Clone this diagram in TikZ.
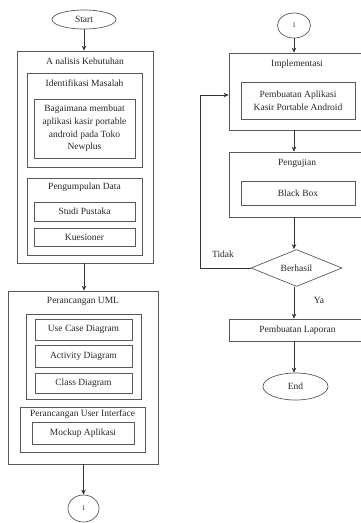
\documentclass[tikz,border=0pt]{standalone}
\usepackage{fontspec}
\setmainfont{Liberation Serif}
\usetikzlibrary{shapes.geometric,arrows.meta}
\begin{document}
\begin{tikzpicture}[x=1pt,y=-1pt,
  every node/.style={font=\fontsize{9.5pt}{12.8pt}\selectfont, text=black!85, inner sep=0pt},
  box/.style={draw=black!65, line width=0.7pt, rectangle},
  ttl/.style={},
  oval/.style={draw=black!65, line width=0.7pt, ellipse},
  arr/.style={draw=black!80, line width=0.8pt, -{Stealth[length=5pt,width=4.5pt]}}]
\useasboundingbox (0,0) rectangle (360,523);
% ---------- left column ----------
\node[oval, minimum width=64pt, minimum height=19pt] (start) at (84,19.5) {Start};
\node[box, minimum width=136pt, minimum height=212pt] (ana) at (85,157) {};
\node[ttl] (anat) at (85,61) {A nalisis Kebutuhan};
\node[box, minimum width=115pt, minimum height=94pt] (idm) at (84.5,120) {};
\node[ttl] (idmt) at (84.5,83) {Identifikasi Masalah};
\node[box, minimum width=101pt, minimum height=59pt, align=center] (q) at (84.5,128.5) {Bagaimana membuat\\aplikasi kasir portable\\android pada Toko\\Newplus};
\node[box, minimum width=115pt, minimum height=77pt] (pd) at (84.5,216.5) {};
\node[ttl] (pdt) at (84.5,187) {Pengumpulan Data};
\node[box, minimum width=101pt, minimum height=19pt] (studi) at (84.5,211.5) {Studi Pustaka};
\node[box, minimum width=101pt, minimum height=18pt] (kues) at (84.5,237) {Kuesioner};
\node[box, minimum width=150pt, minimum height=173pt] (uml) at (83,377.5) {};
\node[ttl] (umlt) at (83,301) {Perancangan UML};
\node[box, minimum width=115pt, minimum height=85pt] (umli) at (83.5,356.5) {};
\node[box, minimum width=97pt, minimum height=21pt] (uc) at (83.5,329.5) {Use Case Diagram};
\node[box, minimum width=97pt, minimum height=22pt] (act) at (83.5,356) {Activity Diagram};
\node[box, minimum width=97pt, minimum height=20pt] (cls) at (83.5,383) {Class Diagram};
\node[box, minimum width=125pt, minimum height=45pt] (ui) at (82.5,429.5) {};
\node[ttl] (uit) at (82.5,414.5) {Perancangan User Interface};
\node[box, minimum width=102pt, minimum height=22pt] (mock) at (83,433) {Mockup Aplikasi};
\node[oval, minimum width=31pt, minimum height=27pt, font=\fontsize{7pt}{8pt}\selectfont] (c1) at (83.5,508.5) {1};
\draw[arr] (start.south) -- (start.south |- ana.north);
\draw[arr] (ana.south -| 84,0) -- (84,0 |- uml.north);
\draw[arr] (uml.south -| c1.north) -- (c1.north);
% ---------- right column ----------
\node[oval, minimum width=33pt, minimum height=25pt, font=\fontsize{7pt}{8pt}\selectfont] (c2) at (294,25.5) {1};
\node[box, minimum width=137pt, minimum height=77pt] (impl) at (297.5,91.5) {};
\node[ttl] (implt) at (297,64) {Implementasi};
\node[box, minimum width=114pt, minimum height=37pt, align=center] (app) at (298,100.5) {Pembuatan Aplikasi\\Kasir Portable Android};
\node[box, minimum width=137pt, minimum height=65pt] (uji) at (297.5,184.5) {};
\node[ttl] (ujit) at (297,163) {Pengujian};
\node[box, minimum width=114pt, minimum height=24pt] (bb) at (298,193) {Black Box};
\node[draw=black!65, line width=0.7pt, diamond, aspect=2.46, minimum width=91pt, minimum height=37pt, inner sep=0pt] (dec) at (296.5,268) {Berhasil};
\node[box, minimum width=137pt, minimum height=22pt] (lap) at (297.5,330) {Pembuatan Laporan};
\node[oval, minimum width=65pt, minimum height=27pt] (end) at (295.5,386.5) {End};
\node (tidak) at (223,254) {Tidak};
\node (ya) at (319,300) {Ya};
\coordinate (lb) at (200,268);
\coordinate (lt) at (200,95);
\draw[arr] (c2.south) -- (c2.south |- impl.north);
\draw[arr] (294,0 |- impl.south) -- (294,0 |- uji.north);
\draw[arr] (294,0 |- uji.south) -- (294,0 |- dec.north);
\draw[arr] (dec.west) -- (lb) -- (lt) -- (lt -| impl.west);
\draw[arr] (294,0 |- dec.south) -- (294,0 |- lap.north);
\draw[arr] (294,0 |- lap.south) -- (294,0 |- end.north);
\end{tikzpicture}
\end{document}
